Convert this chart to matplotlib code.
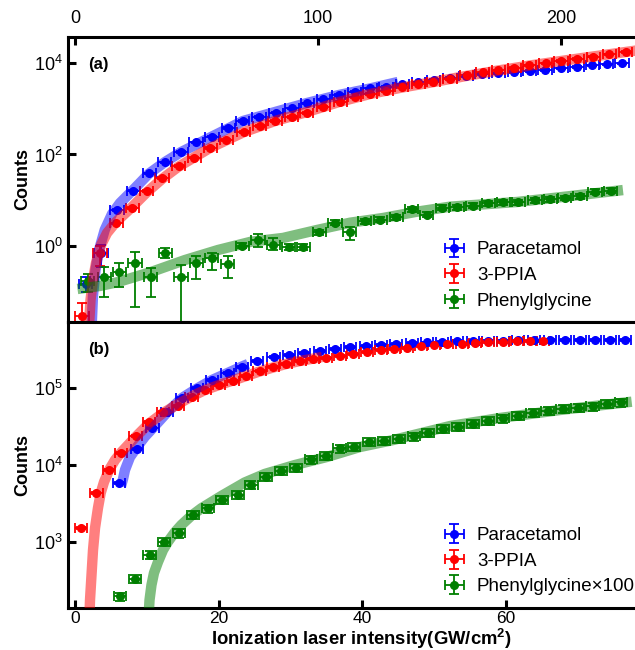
import numpy as np
import matplotlib
matplotlib.use("Agg")
import matplotlib.pyplot as plt
from matplotlib.ticker import NullLocator, FixedLocator

plt.rcParams['font.family'] = ['Liberation Sans', 'DejaVu Sans']
plt.rcParams['mathtext.fontset'] = 'custom'
plt.rcParams['mathtext.rm'] = 'Liberation Sans'
plt.rcParams['mathtext.it'] = 'Liberation Sans:italic'
plt.rcParams['mathtext.bf'] = 'Liberation Sans:bold'
plt.rcParams['mathtext.default'] = 'regular'

# ---------------- data: panel (a) ----------------
para_a_x = [4.5, 10.7, 17.3, 23.9, 30.5, 37.0, 43.6, 49.8, 56.4, 63.0, 69.1, 75.7, 82.7, 89.3, 95.5,
            102.1, 108.6, 115.2, 121.4, 128.0, 134.6, 141.2, 147.7, 154.3, 160.9, 167.5, 174.1, 180.7,
            187.2, 193.4, 200.0, 206.6, 212.8, 218.9, 225.1]
para_a_y = [0.148, 0.70, 6.1, 16.3, 38.8, 67.5, 112, 183, 247, 385, 548, 670, 828, 1023, 1316, 1610,
            2000, 2361, 2773, 3034, 3423, 3785, 4250, 4772, 5275, 5750, 5960, 6455, 6790, 7030, 7660,
            8300, 8910, 9370, 9850]
para_a_lo_first = [0.100, 0.353]
para_a_hi_first = [0.213, 1.05]

ppia_a_x = [2.9, 10.3, 16.9, 23.5, 29.6, 35.8, 42.6, 49.0, 55.6, 62.3, 69.5, 76.1, 82.3, 89.2, 95.3,
            102.2, 109.1, 115.2, 121.4, 128.0, 134.4, 141.3, 147.4, 154.3, 161.2, 167.8, 174.2, 180.7,
            186.9, 193.8, 200.0, 206.6, 213.3, 219.9, 226.7]
ppia_a_y = [0.0295, 0.72, 3.13, 6.87, 15.9, 30.6, 56.1, 85.9, 139, 207, 310, 420, 548, 670, 820, 1109,
            1427, 1780, 2100, 2481, 2946, 3477, 3902, 4424, 5333, 6266, 6925, 7778, 8818, 9848, 10940,
            12220, 13740, 15350, 17220]
ppia_a_lo_first = [0.0221, 0.36]
ppia_a_hi_first = [0.0576, 1.0]

phe_a_x = [5.3, 12.1, 18.3, 24.7, 31.1, 37.2, 43.6, 50.0, 56.2, 62.8, 68.9, 75.3, 81.6, 87.9, 94.0,
           100.6, 107.0, 113.0, 119.3, 125.7, 132.2, 138.6, 144.7, 151.2, 157.2, 163.8, 170.1, 176.3,
           182.4, 189.3, 195.5, 201.6, 207.8, 214.0, 220.5]
phe_a_y = [0.176, 0.210, 0.274, 0.418, 0.213, 0.703, 0.213, 0.418, 0.538, 0.414, 1.015, 1.387, 1.05,
           0.966, 0.966, 2.02, 3.23, 2.05, 3.47, 3.79, 4.24, 6.34, 4.76, 6.77, 6.95, 7.57, 8.58, 9.02,
           9.02, 10.1, 10.5, 11.2, 12.1, 15.4, 16.2]
phe_a_lo = [0.100, 0.078, 0.129, 0.047, 0.078, 0.538, 0.001, 0.187, 0.299, 0.197, 0.882, 0.966, 0.818,
            0.818, 0.82, 1.78, 2.81, 1.35, 3.07, 3.35, 3.75, 5.6, 4.2, 6.0, 6.15, 6.7, 7.6, 8.0, 8.0,
            8.9, 9.3, 9.9, 10.7, 13.6, 14.3]
phe_a_hi = [0.244, 0.353, 0.431, 0.750, 0.326, 0.891, 0.384, 0.604, 0.714, 0.604, 1.16, 1.83, 1.50,
            1.13, 1.13, 2.29, 3.70, 2.56, 3.93, 4.3, 4.8, 7.2, 5.4, 7.7, 7.9, 8.6, 9.7, 10.2, 10.2,
            11.4, 11.9, 12.7, 13.7, 17.4, 18.3]

fit_para_a_x = [6.7, 7.41, 8.44, 9.88, 12.22, 15.23, 18.52, 23.87, 30.45, 37.04, 43.62, 56.38, 69.14,
                82.30, 95.47, 108.6, 121.4, 132.9]
fit_para_a_y = [0.0114, 0.0849, 0.299, 0.818, 2.24, 5.01, 8.71, 16.7, 38.4, 68.6, 113, 247, 540, 849,
                1336, 2000, 2773, 3846]
fit_ppia_a_x = [5.56, 6.38, 7.41, 8.64, 10.70, 13.17, 16.87, 23.46, 29.63, 35.80, 42.39, 55.56, 69.55,
                82.30, 95.47, 109.1, 121.4, 134.6, 147.7, 160.9, 174.1, 187.2, 200.0, 213.2, 232.5]
fit_ppia_a_y = [0.0113, 0.066, 0.181, 0.425, 1.05, 1.92, 3.35, 7.11, 15.1, 29.1, 53.3, 139, 310, 540,
                849, 1427, 2100, 2913, 3846, 5200, 6855, 8818, 11060, 13870, 19240]
fit_phe_a_x = [1.03, 10.29, 17.70, 31.28, 45.27, 58.85, 72.43, 85.60, 99.59, 113.2, 126.7, 140.7,
               154.3, 181.9, 202.5, 225.5]
fit_phe_a_y = [0.115, 0.134, 0.163, 0.270, 0.494, 0.818, 1.24, 1.50, 2.24, 3.23, 4.09, 5.62, 7.23,
               9.16, 12.1, 16.7]

# ---------------- data: panel (b) ----------------
para_b_x = [6.13, 8.64, 10.79, 12.86, 14.90, 16.99, 19.08, 21.24, 23.30, 25.39, 27.65, 29.81, 31.89,
            34.12, 36.21, 38.30, 40.53, 42.62, 44.71, 46.90, 48.98, 51.07, 53.25, 55.47, 57.56, 59.65,
            61.74, 63.93, 66.16, 68.25, 70.33, 72.42, 74.51, 76.60]
para_b_y = [5875, 16260, 30090, 48640, 75400, 100000, 129400, 159700, 189500, 224800, 252300, 271900,
            286000, 309000, 328100, 343400, 353900, 363700, 375800, 387300, 395500, 405500, 410500,
            416000, 417800, 417800, 420100, 420100, 422600, 426600, 426600, 426600, 426600, 432700]

ppia_b_x = [0.84, 2.99, 4.74, 6.41, 8.43, 10.31, 12.26, 14.35, 16.23, 18.11, 20.06, 22.01, 23.82,
            25.70, 27.58, 29.43, 31.30, 33.15, 34.96, 36.91, 38.76, 40.71, 42.58, 44.43, 46.28, 48.15,
            50.0, 51.81, 53.86, 55.71, 57.56, 59.57, 61.52, 63.37, 65.22]
ppia_b_y = [1510, 4355, 8735, 14550, 23660, 36700, 49550, 59150, 77060, 95050, 111400, 125300, 145600,
            168200, 188400, 206200, 224800, 241100, 246100, 263700, 280000, 300000, 315600, 325200,
            338100, 356100, 366900, 372500, 378400, 386500, 398400, 405500, 410500, 414300, 418100]

phe_b_x = [6.23, 8.33, 10.38, 12.40, 14.44, 16.41, 18.48, 20.47, 22.66, 24.58, 26.56, 28.69, 30.82,
           32.87, 34.96, 36.84, 38.90, 40.95, 43.08, 45.13, 47.17, 49.21, 51.25, 53.34, 55.43, 57.52,
           59.61, 61.70, 63.72, 65.81, 67.90, 69.99, 72.08, 74.09, 76.04]
phe_b_y = [194, 324, 671, 1000, 1288, 2249, 2725, 3497, 4100, 5535, 6977, 8300, 9225, 11800, 13100,
           16500, 17170, 20130, 20680, 21830, 23540, 26140, 29460, 31100, 34030, 37480, 40640, 43550,
           47640, 50880, 53430, 55050, 58240, 62800, 65300]

fit_para_b_x = [6.41, 6.69, 6.96, 7.66, 8.64, 9.75, 10.79, 12.81, 14.90, 16.99, 19.08, 21.24, 23.26, 24.09]
fit_para_b_y = [5321, 6561, 8610, 12710, 17170, 23540, 29920, 48360, 74770, 99400, 128300, 158100,
                192300, 207300]
fit_ppia_b_x = [2.02, 2.09, 2.30, 2.51, 2.79, 3.20, 3.58, 4.04, 4.74, 5.57, 6.41, 8.43, 10.31, 12.26,
                14.35, 16.23, 18.11, 20.06, 22.01, 23.82, 25.70, 27.58, 29.39, 31.34, 34.40]
fit_ppia_b_y = [111, 174, 368, 780, 1510, 2750, 4315, 6000, 8610, 11610, 14550, 23170, 34750, 47640,
                62370, 78160, 95050, 110400, 126500, 144500, 165600, 186600, 207300, 227000, 255900]
fit_phe_b_x = [10.26, 10.38, 10.65, 11.00, 11.56, 12.26, 12.95, 13.93, 14.81, 16.16, 17.59, 20.38,
               23.64, 26.42, 30.64, 35.06, 39.69, 44.33, 52.23, 59.19, 67.55, 77.53]
fit_phe_b_y = [111, 174, 272, 391, 545, 780, 1000, 1337, 1652, 2163, 2725, 3945, 5916, 7638, 10000,
               12710, 17170, 21180, 32210, 41020, 52120, 66840]

labels_a = ['Paracetamol', '3-PPIA', 'Phenylglycine']
labels_b = ['Paracetamol', '3-PPIA', 'Phenylglycine\u00d7100']

XERR_A = 2.7
XERR_B = 0.85
REL_ERR = 0.04
REL_ERR_PHE_B = 0.12

BLUE = '#0000FF'
RED = '#FF0000'
GREEN = '#007F00'

def yerr_from(y, lo_first=None, hi_first=None, rel=REL_ERR):
    y = np.asarray(y, float)
    lo = y * rel
    hi = y * rel
    if lo_first is not None:
        n = len(lo_first)
        lo[:n] = y[:n] - np.asarray(lo_first)
        hi[:n] = np.asarray(hi_first) - y[:n]
    return np.vstack([lo, hi])

W, H = 635, 650
fig = plt.figure(figsize=(W / 100, H / 100), dpi=100)

def px_axes(l, t, r, b):
    return fig.add_axes([l / W, 1 - b / H, (r - l) / W, (b - t) / H])

ax1 = px_axes(68, 37, 642, 322)
ax2 = px_axes(68, 322, 642, 608)

eb_kw = dict(fmt='o', ms=5.5, elinewidth=1.3, capsize=3.6, capthick=1.3, zorder=3)
band_kw = dict(lw=7.5, alpha=0.5, solid_capstyle='butt', solid_joinstyle='round', zorder=4)
leg_kw = dict(loc='upper left', bbox_to_anchor=(0.657, 0.283), frameon=False, fontsize=13.5,
              handlelength=1.0, handletextpad=0.7, labelspacing=0.45, borderaxespad=0, borderpad=0)

# ---- panel (a)
h1 = ax1.errorbar(para_a_x, para_a_y, xerr=XERR_A, yerr=yerr_from(para_a_y, para_a_lo_first, para_a_hi_first),
                  color=BLUE, label=labels_a[0], **eb_kw)
h2 = ax1.errorbar(ppia_a_x, ppia_a_y, xerr=XERR_A, yerr=yerr_from(ppia_a_y, ppia_a_lo_first, ppia_a_hi_first),
                  color=RED, label=labels_a[1], **eb_kw)
phe_a_yerr = np.vstack([np.asarray(phe_a_y) - np.asarray(phe_a_lo), np.asarray(phe_a_hi) - np.asarray(phe_a_y)])
h3 = ax1.errorbar(phe_a_x, phe_a_y, xerr=XERR_A, yerr=phe_a_yerr, color=GREEN, label=labels_a[2], **eb_kw)
ax1.plot(fit_para_a_x, fit_para_a_y, color=BLUE, **band_kw)
ax1.plot(fit_ppia_a_x, fit_ppia_a_y, color=RED, **band_kw)
ax1.plot(fit_phe_a_x, fit_phe_a_y, color=GREEN, **band_kw)

ax1.set_yscale('log')
ax1.set_xlim(-2.88, (642 - 75) / 2.43)
ax1.set_ylim(10 ** ((246 - 322) / 45.75), 10 ** ((246 - 37) / 45.75))
ax1.yaxis.set_major_locator(FixedLocator([1, 1e2, 1e4]))
ax1.yaxis.set_minor_locator(NullLocator())
ax1.xaxis.set_major_locator(FixedLocator([0, 100, 200]))
ax1.xaxis.tick_top()
ax1.tick_params(axis='x', which='both', top=True, bottom=False, labeltop=True, labelbottom=False,
                direction='in', length=6, width=2.2, pad=7, labelsize=13)
ax1.tick_params(axis='y', direction='in', length=6, width=2.2, pad=4, labelsize=13)
ax1.set_ylabel('Counts', fontsize=13, fontweight='bold', labelpad=1.5)
ax1.text(0.035, 0.905, '(a)', transform=ax1.transAxes, fontsize=12, fontweight='bold', va='center')
ax1.legend(handles=[h1, h2, h3], labels=labels_a, **leg_kw)

# ---- panel (b)
g1 = ax2.errorbar(para_b_x, para_b_y, xerr=XERR_B, yerr=yerr_from(para_b_y, rel=0.03),
                  color=BLUE, label=labels_b[0], **eb_kw)
g2 = ax2.errorbar(ppia_b_x, ppia_b_y, xerr=XERR_B, yerr=yerr_from(ppia_b_y, rel=0.03),
                  color=RED, label=labels_b[1], **eb_kw)
g3 = ax2.errorbar(phe_b_x, phe_b_y, xerr=XERR_B, yerr=yerr_from(phe_b_y, rel=REL_ERR_PHE_B),
                  color=GREEN, label=labels_b[2], **eb_kw)
ax2.plot(fit_para_b_x, fit_para_b_y, color=BLUE, **band_kw)
ax2.plot(fit_ppia_b_x, fit_ppia_b_y, color=RED, **band_kw)
ax2.plot(fit_phe_b_x, fit_phe_b_y, color=GREEN, **band_kw)

ax2.set_yscale('log')
ax2.set_xlim((68 - 75) / 7.18, (642 - 75) / 7.18)
ax2.set_ylim(10 ** (5 - (608 - 388.3) / 76.7), 10 ** (5 + (388.3 - 322) / 76.7))
ax2.yaxis.set_major_locator(FixedLocator([1e3, 1e4, 1e5]))
ax2.yaxis.set_minor_locator(NullLocator())
ax2.xaxis.set_major_locator(FixedLocator([0, 20, 40, 60]))
ax2.tick_params(axis='x', which='both', top=False, bottom=True, direction='in', length=6, width=2.2,
                pad=2.5, labelsize=12.5)
ax2.tick_params(axis='y', direction='in', length=6, width=2.2, pad=4, labelsize=13)
ax2.set_ylabel('Counts', fontsize=13, fontweight='bold', labelpad=1.5)
xl = ax2.set_xlabel('Ionization laser intensity(GW/cm$^{\\mathbf{2}}$)', fontsize=13.3, fontweight='bold')
xl.set_verticalalignment('baseline')
ax2.xaxis.set_label_coords((361 - 68) / 574, (608 - 645) / 286)
ax2.text(0.035, 0.905, '(b)', transform=ax2.transAxes, fontsize=12, fontweight='bold', va='center')
ax2.legend(handles=[g1, g2, g3], labels=labels_b, **leg_kw)

for ax in (ax1, ax2):
    for s in ax.spines.values():
        s.set_linewidth(2.2)

fig.savefig('out.png', dpi=100)
